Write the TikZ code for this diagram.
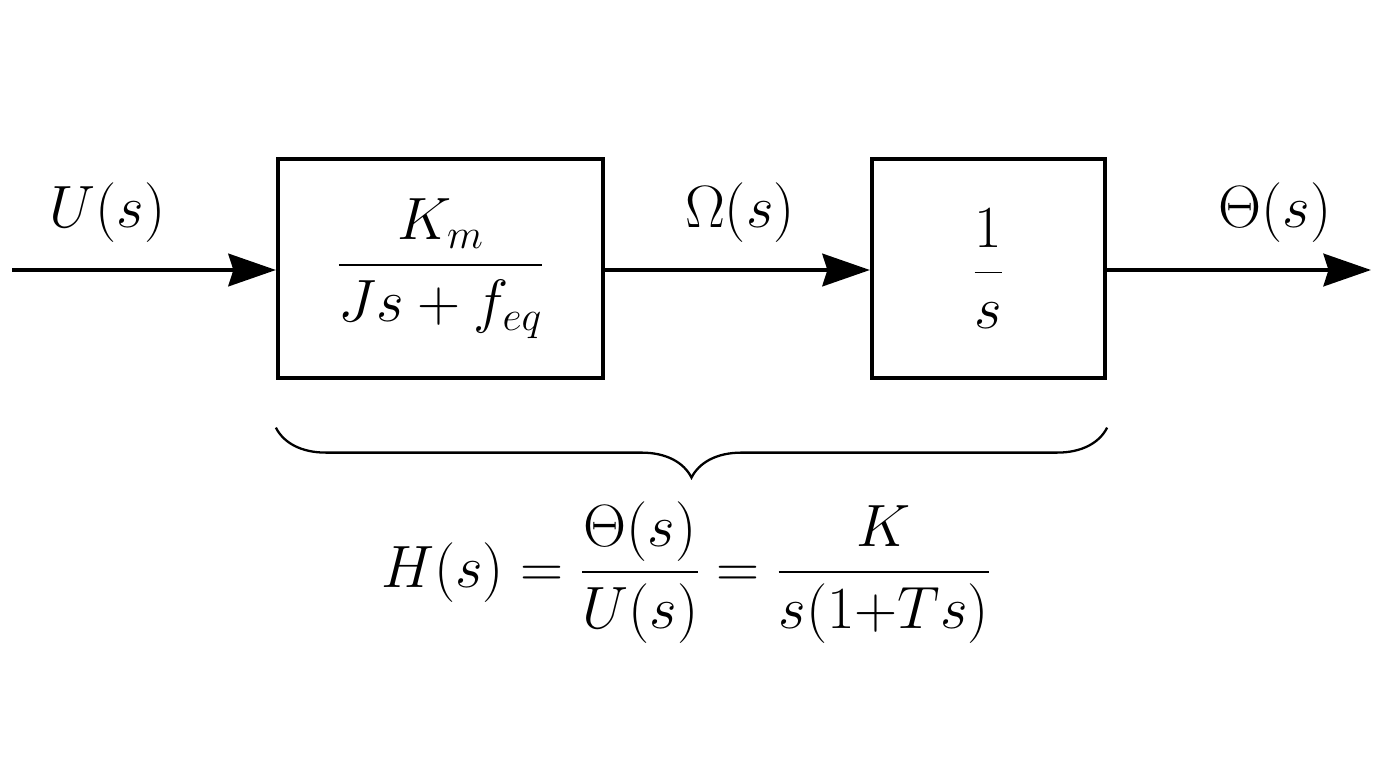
\documentclass[tikz,border=0pt]{standalone}
\usepackage{fix-cm}
\usepackage{amsmath}
\usetikzlibrary{arrows.meta,positioning,decorations.pathreplacing}
\tikzset{
  bigtext/.style={font=\fontsize{34}{40}\selectfont},
  block/.style={draw, line width=2.4pt, bigtext, minimum height=4.38cm, inner sep=0pt},
  sig/.style={line width=2.4pt, -{Stealth[length=0.95cm,width=0.65cm,inset=0.1cm]}},
}
\begin{document}
\begin{tikzpicture}[x=1cm,y=1cm]
\useasboundingbox (0,0) rectangle (27.52,-15.36);
% blocks
\node[block, minimum width=6.5cm] (motor) at (8.81,-5.37) {$\dfrac{K_m}{Js+f_{eq}}$};
\node[block, minimum width=4.66cm] (integ) at (19.77,-5.37) {$\dfrac{1}{s}$};
% signals
\coordinate (in) at (0.24,-5.4);
\coordinate (out) at (27.42,-5.4);
\draw[sig] (in) -- (in -| motor.west);
\draw[sig] (motor.east |- in) -- (integ.west |- in);
\draw[sig] (integ.east |- in) -- (out);
\node[bigtext] (u) at (2.15,-4.25) {$U(s)$};
\node[bigtext] (om) at (14.8,-4.25) {$\Omega(s)$};
\node[bigtext] (th) at (25.5,-4.25) {$\Theta(s)$};
% brace
\draw[line width=1.3pt, decorate, decoration={brace, mirror, amplitude=1cm}]
  ([yshift=-0.95cm]motor.south west) -- ([yshift=-0.95cm]integ.south east);
\node[bigtext] (tf) at (13.72,-11.45) {$H(s)=\dfrac{\Theta(s)}{U(s)}=\dfrac{K}{s(1{+}Ts)}$};
\end{tikzpicture}
\end{document}
